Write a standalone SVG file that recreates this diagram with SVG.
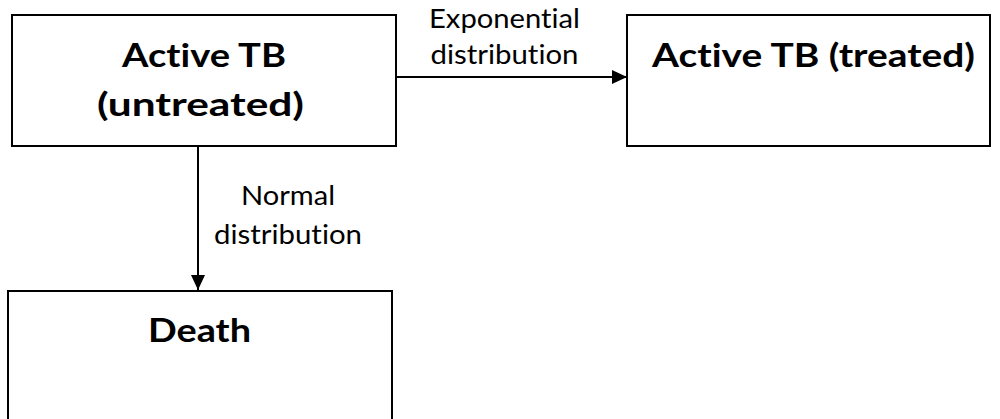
<svg xmlns="http://www.w3.org/2000/svg" width="1000" height="419" viewBox="0 0 1000 419">
<defs>
<style>
.box{fill:#fff;stroke:#000;stroke-width:2}
.t{font-family:Lato,"Open Sans","Liberation Sans",sans-serif;font-weight:700;font-size:32.5px;fill:#000;text-anchor:middle;font-variant-ligatures:none}
.l{font-family:Lato,"Open Sans","Liberation Sans",sans-serif;font-weight:400;font-size:26.5px;fill:#000;text-anchor:middle;font-variant-ligatures:none}
.c{stroke:#000;stroke-width:2;fill:none}
</style>
<marker id="ah" markerWidth="15" markerHeight="14" refX="15" refY="7" orient="auto" markerUnits="userSpaceOnUse">
<path d="M0,0 L15,7 L0,14 Z" fill="#000"/>
</marker>
</defs>
<rect width="1000" height="419" fill="#fff"/>
<g id="node-untreated">
<rect class="box" x="12" y="15" width="384" height="131"/>
<text class="t" x="204" y="67" textLength="164" lengthAdjust="spacingAndGlyphs">Active TB</text>
<text class="t" x="200.5" y="116" textLength="207" lengthAdjust="spacingAndGlyphs">(untreated)</text>
</g>
<g id="node-treated">
<rect class="box" x="627" y="15" width="363" height="131"/>
<text class="t" x="813.5" y="67" textLength="323" lengthAdjust="spacingAndGlyphs">Active TB (treated)</text>
</g>
<g id="node-death">
<rect class="box" x="8" y="291" width="384" height="140"/>
<text class="t" x="199.5" y="342" textLength="103" lengthAdjust="spacingAndGlyphs">Death</text>
</g>
<g id="connectors">
<line class="c" x1="396" y1="77" x2="627" y2="77" marker-end="url(#ah)"/>
<line class="c" x1="198" y1="146" x2="198" y2="290" marker-end="url(#ah)"/>
<text class="l" x="504.5" y="28" textLength="151" lengthAdjust="spacingAndGlyphs">Exponential</text>
<text class="l" x="504.5" y="64" textLength="148" lengthAdjust="spacingAndGlyphs">distribution</text>
<text class="l" x="288" y="205" textLength="94" lengthAdjust="spacingAndGlyphs">Normal</text>
<text class="l" x="288" y="244" textLength="148" lengthAdjust="spacingAndGlyphs">distribution</text>
</g>
</svg>
